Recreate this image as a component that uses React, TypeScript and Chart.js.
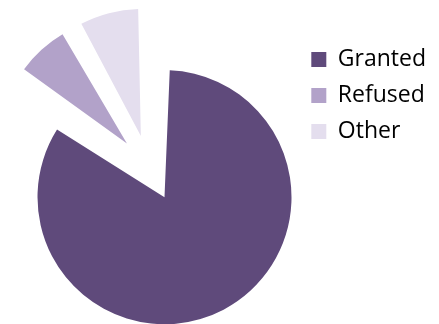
import React, { useEffect, useRef } from "react";
import { Chart, registerables } from "chart.js";

Chart.register(...registerables);

const labels = ["Granted", "Refused", "Other"];
const values = [84.6, 7.3, 8.1];
const colors = ["#5f4a7b", "#b2a2c9", "#e4deee"];
const explode = [132, 132, 132];

// Chart.js grows an offset arc's radius; keep every slice at the same radius.
const keepRadius = {
  id: "keepRadius",
  beforeDatasetsDraw(chart: any) {
    chart.getSortedVisibleDatasetMetas().forEach((meta: any) =>
      meta.data.forEach((el: any) => {
        const o = (el.options.offset || 0) / 4;
        const fix = 1 - Math.sin(Math.min(Math.PI, el.circumference || 0));
        el.$savedR = el.outerRadius;
        el.outerRadius = el.outerRadius - o * fix;
      })
    );
  },
  afterDatasetsDraw(chart: any) {
    chart.getSortedVisibleDatasetMetas().forEach((meta: any) =>
      meta.data.forEach((el: any) => {
        if (el.$savedR !== undefined) el.outerRadius = el.$savedR;
      })
    );
  },
};

export default function App() {
  const ref = useRef<HTMLCanvasElement>(null);
  useEffect(() => {
    if (!ref.current) return;
    const chart = new Chart(ref.current, {
      type: "pie",
      data: {
        labels,
        datasets: [
          {
            data: values,
            backgroundColor: colors,
            borderWidth: 0,
            offset: explode,
            clip: false as any,
          },
        ],
      },
      options: {
        responsive: false,
        animation: false,
        radius: 127,
        layout: { padding: { top: 35, bottom: 23, left: 0, right: 3 } },
        plugins: {
          tooltip: { enabled: false },
          legend: {
            position: "right",
            align: "start",
            labels: {
              boxWidth: 15,
              boxHeight: 15,
              padding: 13,
              color: "#000",
              font: { family: "'Open Sans'", size: 23 },
            },
          },
        },
      } as any,
      plugins: [keepRadius],
    });
    return () => chart.destroy();
  }, []);
  return (
    <canvas
      ref={ref}
      width={439}
      height={324}
      style={{ position: "absolute", left: 0, top: 0 }}
    />
  );
}
